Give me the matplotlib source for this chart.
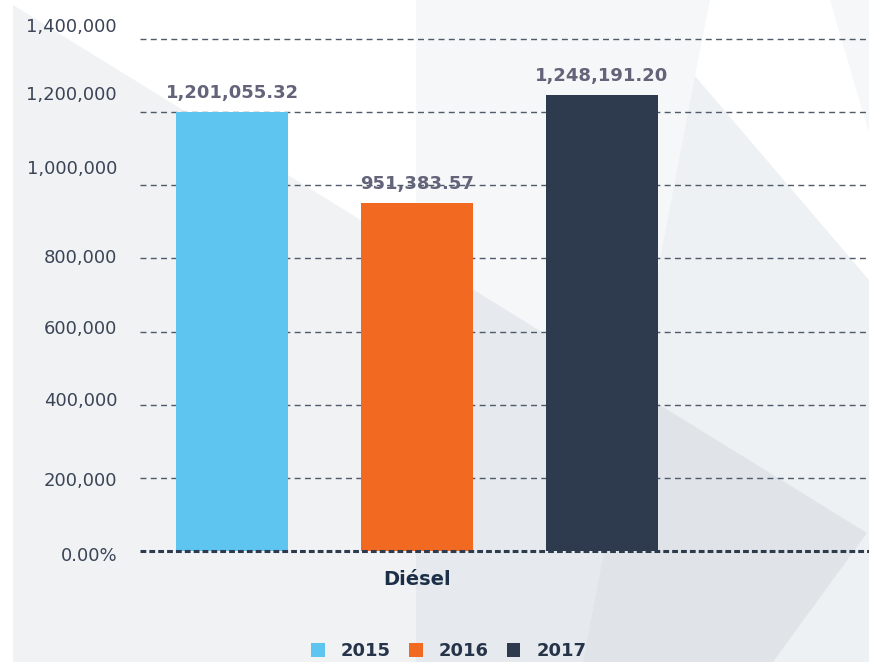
import numpy as np
import matplotlib.pyplot as plt
from matplotlib.patches import Polygon, Patch
from matplotlib.transforms import ScaledTranslation

category = 'Diésel'
years = ['2015', '2016', '2017']
values = [1201055.32, 951383.57, 1248191.20]
value_labels = ['1,201,055.32', '951,383.57', '1,248,191.20']
colors = ['#5ec4f0', '#f26a22', '#2e3b4e']
yticks = [0, 200000, 400000, 600000, 800000, 1000000, 1200000, 1400000]
ytick_labels = ['0.00%', '200,000', '400,000', '600,000', '800,000',
                '1,000,000', '1,200,000', '1,400,000']

W, H = 869, 662
fig = plt.figure(figsize=(W / 100, H / 100), dpi=100)
fig.patch.set_facecolor('white')


def bg(points, color, alpha=1.0):
    pts = [(x / W, 1 - y / H) for x, y in points]
    fig.patches.append(Polygon(pts, closed=True, transform=fig.transFigure,
                               facecolor=color, edgecolor='none', alpha=alpha, zorder=-10))


# decorative background shapes
bg([(416, 0), (869, 0), (869, 662), (416, 662)], '#2e4a6b', 0.045)
bg([(710, 0), (830, 0), (869, 133), (869, 280), (695, 76)], 'white')
bg([(13, 5), (867, 533), (773, 662), (13, 662)], '#2e4a6b', 0.07)
bg([(695, 76), (869, 280), (869, 662), (583, 662)], '#2e4a6b', 0.03)

ax = fig.add_axes([140 / W, (H - 551) / H, 729 / W, 512 / H])
ax.set_facecolor('none')

spacing = 0.33
width = 0.2
x0 = 0.0
for i, (yr, v, c) in enumerate(zip(years, values, colors)):
    xpos = x0 + (i - 1) * spacing
    ax.bar(xpos, v, width=width, color=c, zorder=3, label=yr)
    ax.annotate(value_labels[i], (xpos, v), xytext=(0, 7), textcoords='offset points',
                ha='center', va='bottom', fontsize=13, fontweight='bold',
                color='#63637a', family='DejaVu Sans', zorder=5)

ax.set_xlim(-0.495, 0.807)
ax.set_ylim(0, 1400000)
ax.set_yticks(yticks)
ax.set_yticklabels(ytick_labels, fontsize=13, color='#3b4557')
ax.set_xticks([x0])
ax.set_xticklabels([category], fontsize=14, fontweight='bold', color='#1c2f47')
ax.tick_params(axis='y', length=0, pad=16.5)
ax.tick_params(axis='x', length=0, pad=14)
for s in ax.spines.values():
    s.set_visible(False)

for t in yticks[1:]:
    ax.axhline(t, color='#4f5a6b', lw=1.0, dashes=(4.3, 3.1), zorder=1, clip_on=False)
ax.axhline(0, color='#2e3b4e', lw=2.2, dashes=(1.9, 1.0), zorder=4, clip_on=False)

# nudge the y labels the way the original places them
shifts = [-3, -1, 6, 5, 2, 18, 19, 14]
for lab, dy in zip(ax.get_yticklabels(), shifts):
    lab.set_transform(lab.get_transform() + ScaledTranslation(0, dy / 100, fig.dpi_scale_trans))

handles = [Patch(facecolor=c, edgecolor='none') for c in colors]
leg = fig.legend(handles, years, loc='center', bbox_to_anchor=(449 / W, 0.016), ncol=3,
                 frameon=False, handlelength=0.75, handleheight=0.75, handletextpad=0.9,
                 columnspacing=1.0, prop={'weight': 'bold', 'size': 13})
for t in leg.get_texts():
    t.set_color('#26344a')

plt.savefig('out.png', dpi=100, facecolor=fig.get_facecolor())
